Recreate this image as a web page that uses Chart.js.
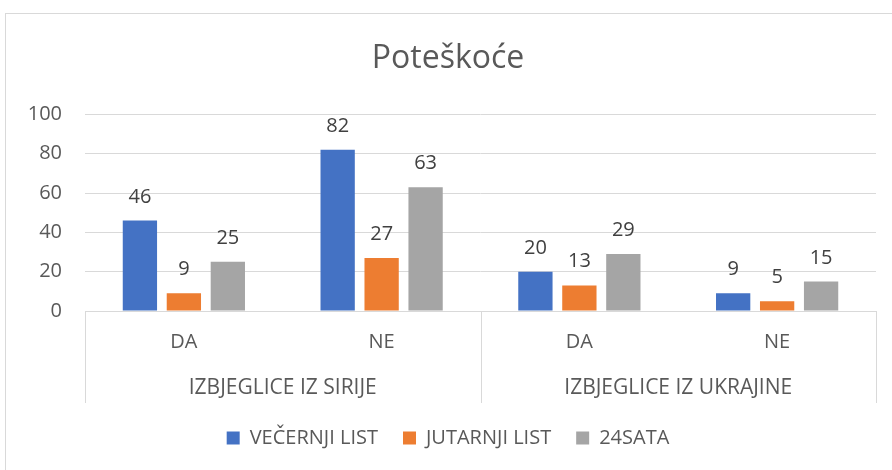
<!DOCTYPE html>
<html>
<head>
<meta charset="utf-8">
<script src="https://cdn.jsdelivr.net/npm/chart.js@4/dist/chart.umd.min.js"></script>
<style>
	body { margin: 0; background: #fff; }
	#wrap { position: relative; width: 892px; height: 470px; overflow: hidden; }
	#frame { position: absolute; left: 5px; top: 13px; width: 920px; height: 480px; border: 1px solid #d9d9d9; }
	canvas { position: absolute; left: 0; top: 0; }
</style>
</head>
<body>
<div id="wrap">
	<div id="frame"></div>
	<canvas id="chart" width="892" height="470"></canvas>
</div>
<script>
// data
var answers = ["DA", "NE", "DA", "NE"];
var groups = ["IZBJEGLICE IZ SIRIJE", "IZBJEGLICE IZ UKRAJINE"];
var vecernji = [46, 82, 20, 9];
var jutarnji = [9, 27, 13, 5];
var sata24 = [25, 63, 29, 15];
var yTicks = [0, 20, 40, 60, 80, 100];

var FONT = "'Open Sans', 'Noto Sans', sans-serif";
var TEXT = "#595959";
var LINE = "#d9d9d9";

// value labels above each bar
var valueLabels = {
	id: "valueLabels",
	afterDatasetsDraw(chart) {
		var ctx = chart.ctx;
		ctx.save();
		ctx.font = "20px " + FONT;
		ctx.fillStyle = "#404040";
		ctx.textAlign = "center";
		ctx.textBaseline = "alphabetic";
		chart.data.datasets.forEach(function (ds, i) {
			chart.getDatasetMeta(i).data.forEach(function (bar, j) {
				ctx.fillText(ds.data[j], bar.x, bar.y - 18);
			});
		});
		ctx.restore();
	}
};

// the table lines of the two level category axis
var groupLines = {
	id: "groupLines",
	afterDraw(chart) {
		var x = chart.scales.x, x2 = chart.scales.x2;
		var ctx = chart.ctx;
		var mid = (x.getPixelForValue(1) + x.getPixelForValue(2)) / 2;
		ctx.save();
		ctx.strokeStyle = LINE;
		ctx.lineWidth = 1;
		[x.left, mid, x.right].forEach(function (px) {
			px = Math.round(px) + 0.5;
			ctx.beginPath();
			ctx.moveTo(px, x.top);
			ctx.lineTo(px, x2.bottom);
			ctx.stroke();
		});
		ctx.restore();
	}
};

new Chart(document.getElementById("chart"), {
	type: "bar",
	data: {
		labels: answers,
		datasets: [
			{ label: "VEČERNJI LIST", data: vecernji, backgroundColor: "#4472C4" },
			{ label: "JUTARNJI LIST", data: jutarnji, backgroundColor: "#ED7D31" },
			{ label: "24SATA", data: sata24, backgroundColor: "#A5A5A5" }
		]
	},
	options: {
		responsive: false,
		animation: false,
		categoryPercentage: 0.667,
		barPercentage: 0.78,
		layout: { padding: { left: 20, right: 16, top: 0, bottom: 12 } },
		plugins: {
			title: {
				display: true,
				text: "Poteškoće",
				color: TEXT,
				font: { family: FONT, size: 32, weight: "normal" },
				padding: { top: 40, bottom: 36 }
			},
			legend: {
				position: "bottom",
				labels: {
					color: TEXT,
					font: { family: FONT, size: 20 },
					boxWidth: 13,
					boxHeight: 13,
					padding: 25
				}
			},
			tooltip: { enabled: false }
		},
		scales: {
			y: {
				min: 0,
				max: 100,
				afterBuildTicks(axis) { axis.ticks = yTicks.map(function (v) { return { value: v }; }); },
				afterFit(axis) { axis.width = 65; },
				border: { display: false },
				grid: { color: LINE, drawTicks: false },
				ticks: { color: TEXT, font: { family: FONT, size: 20 }, padding: 23 }
			},
			x: {
				afterFit(axis) { axis.height = 50; },
				border: { color: LINE },
				grid: { display: false, drawTicks: false },
				ticks: { color: TEXT, font: { family: FONT, size: 20 }, padding: 19, maxRotation: 0 }
			},
			x2: {
				type: "category",
				position: "bottom",
				labels: groups,
				offset: true,
				afterFit(axis) { axis.height = 42; },
				border: { display: false },
				grid: { display: false, drawTicks: false },
				ticks: { color: TEXT, font: { family: FONT, size: 21 }, padding: 14, maxRotation: 0 }
			}
		}
	},
	plugins: [valueLabels, groupLines]
});
</script>
</body>
</html>
